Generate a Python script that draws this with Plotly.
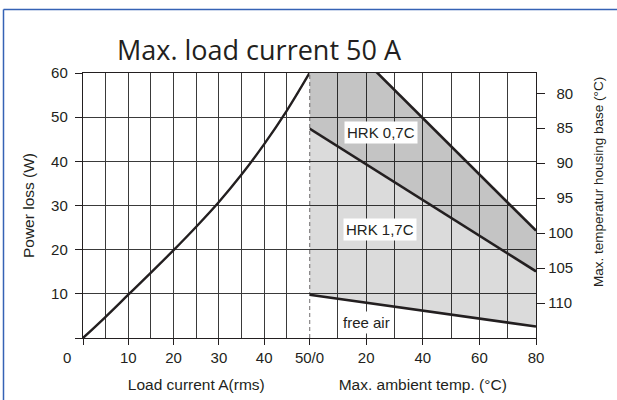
import plotly.graph_objects as go

# ---- data ----
CURRENT_A = [0, 5, 10, 15, 20, 25, 30, 35, 40, 45, 50]
POWER_LOSS_W = [0, 4.8, 9.8, 14.8, 19.9, 25.2, 30.8, 37.0, 43.9, 51.5, 60]

AMBIENT_C = [0, 80]
HRK07_W = [75.3, 24.3]
HRK17_W = [47.4, 15.1]
FREE_AIR_W = [9.8, 2.6]

LEFT_X_TICKS = [0, 10, 20, 30, 40, 50]
LEFT_X_TICKTEXT = ["", "10", "20", "30", "40", "50/0"]
LEFT_X_GRID = [5, 10, 15, 20, 25, 30, 35, 40, 45]
RIGHT_X_TICKS = [20, 40, 60, 80]
RIGHT_X_GRID = [10, 30, 50, 70]
Y_TICKS = [0, 10, 20, 30, 40, 50, 60]
Y_TICKTEXT = ["", "10", "20", "30", "40", "50", "60"]
HOUSING_TICKS = [80, 85, 90, 95, 100, 105, 110]

LABELS = [("HRK 0,7C", 25.1, 46.5), ("HRK 1,7C", 25.0, 24.5), ("free air", 20.2, 3.6)]

INK = "#231f20"
GRID = "#3a3a3a"
TICKFONT = dict(family="Liberation Sans, Arial", size=15, color=INK)
TITLEFONT = dict(family="Liberation Sans, Arial", size=15.5, color=INK)

fig = go.Figure()

fig.add_trace(go.Scatter(x=CURRENT_A, y=POWER_LOSS_W, mode="lines",
                         line=dict(color=INK, width=2.4, shape="spline"),
                         xaxis="x", yaxis="y", showlegend=False, hoverinfo="skip"))

fig.add_trace(go.Scatter(x=AMBIENT_C, y=FREE_AIR_W, mode="lines",
                         line=dict(color=INK, width=2.6),
                         xaxis="x2", yaxis="y", showlegend=False, hoverinfo="skip"))
fig.add_trace(go.Scatter(x=AMBIENT_C, y=HRK17_W, mode="lines", fill="tonexty",
                         fillcolor="rgba(0,0,0,0.14)",
                         line=dict(color=INK, width=2.6),
                         xaxis="x2", yaxis="y", showlegend=False, hoverinfo="skip"))
fig.add_trace(go.Scatter(x=AMBIENT_C, y=HRK07_W, mode="lines", fill="tonexty",
                         fillcolor="rgba(0,0,0,0.23)",
                         line=dict(color=INK, width=2.6),
                         xaxis="x2", yaxis="y", showlegend=False, hoverinfo="skip"))
# empty trace so the housing-temperature axis is drawn
fig.add_trace(go.Scatter(x=AMBIENT_C, y=[None, None], mode="lines",
                         xaxis="x2", yaxis="y2", showlegend=False, hoverinfo="skip"))

axis_common = dict(showline=True, linecolor=INK, linewidth=1.4, mirror=True,
                   ticks="outside", ticklen=6, tickwidth=1.3, tickcolor=INK,
                   tickfont=TICKFONT, zeroline=False, automargin=False)

fig.update_layout(
    width=617, height=400,
    margin=dict(l=83, r=81, t=73, b=62),
    paper_bgcolor="white", plot_bgcolor="white",
    title=dict(text="Max. load current 50 A", x=117 / 617, xanchor="left", xref="container",
               y=1 - 51 / 400, yanchor="middle", yref="container", automargin=False,
               font=dict(family="Open Sans", size=27, color=INK)),
    xaxis=dict(domain=[0, 0.5], range=[0, 50], anchor="y",
               tickvals=LEFT_X_TICKS, ticktext=LEFT_X_TICKTEXT, showgrid=False,
               minor=dict(tickvals=LEFT_X_GRID, showgrid=True, gridcolor=GRID, gridwidth=1.3, ticks=""),
               title=dict(text="Load current A(rms)", font=TITLEFONT, standoff=13),
               **axis_common),
    xaxis2=dict(domain=[0.5, 1], range=[0, 80], anchor="y",
                tickvals=RIGHT_X_TICKS, showgrid=True, gridcolor=GRID, gridwidth=1.3,
                minor=dict(tickvals=RIGHT_X_GRID, showgrid=True, gridcolor=GRID, gridwidth=1.3, ticks=""),
                title=dict(text="Max. ambient temp. (°C)", font=TITLEFONT, standoff=13),
                **axis_common),
    yaxis=dict(range=[0, 60], anchor="x", tickvals=Y_TICKS, ticktext=Y_TICKTEXT,
               showline=True, linecolor=INK, linewidth=1.4, mirror=False,
               ticks="outside", ticklen=7, tickwidth=1.3, tickcolor=INK,
               ticklabelstandoff=4,
               tickfont=TICKFONT, zeroline=False, automargin=False,
               showgrid=True, gridcolor=GRID, gridwidth=1.3,
               title=dict(text="Power loss (W)", font=TITLEFONT, standoff=12)),
    yaxis2=dict(range=[115, 77.1], overlaying="y", anchor="x2", side="right",
                tickvals=HOUSING_TICKS,
                ticktext=[("\u2007" if t < 100 else "") + str(t) for t in HOUSING_TICKS],
                showline=True, linecolor=INK, linewidth=1.4, automargin=False,
                ticks="outside", ticklen=8, tickwidth=1.3, tickcolor=INK,
                tickfont=TICKFONT, showgrid=False, zeroline=False),
)

# dashed divider at 50 A / 0 °C
fig.add_shape(type="line", xref="x2", x0=AMBIENT_C[0], x1=AMBIENT_C[0],
              yref="y domain", y0=0, y1=1,
              line=dict(color=INK, width=1.3, dash="4px,3px"))

# blue frame (top and left)
fig.add_shape(type="line", xref="paper", yref="paper", x0=-0.1755, x1=1.25, y0=1.2396, y1=1.2396,
              line=dict(color="#3562b5", width=1.5))
fig.add_shape(type="line", xref="paper", yref="paper", x0=-0.1755, x1=-0.1755, y0=1.2396, y1=-0.3,
              line=dict(color="#3562b5", width=1.5))

for text, tx, ty in LABELS:
    fig.add_annotation(text=text, x=tx, y=ty, xref="x2", yref="y", showarrow=False,
                       bgcolor="white", borderpad=2,
                       font=dict(family="Liberation Sans, Arial", size=15, color=INK))

fig.add_annotation(text="0", xref="paper", yref="paper", x=(66.7 - 83) / 453, y=(338 - 357) / 265,
                   xanchor="center", yanchor="middle", showarrow=False, font=TICKFONT)

fig.add_annotation(text="Max. temperatur housing base (°C)", textangle=-90,
                   xref="paper", yref="paper", x=(598 - 83) / 453, y=(338 - 182) / 265,
                   xanchor="center", yanchor="middle",
                   showarrow=False, font=dict(family="Liberation Sans, Arial", size=13.5, color=INK))

fig.write_html("out.html", config={"displayModeBar": False},
               post_script="document.body.style.margin='0px';")
